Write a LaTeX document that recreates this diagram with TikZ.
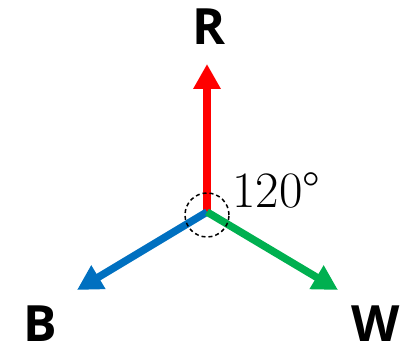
\documentclass[tikz,border=0pt]{standalone}
\usepackage{fontspec}
\newfontfamily\lblfont{Open Sans}
\definecolor{phaseR}{HTML}{FF0000}
\definecolor{phaseB}{HTML}{0070C0}
\definecolor{phaseW}{HTML}{00B050}
\usetikzlibrary{calc, positioning, arrows.meta}

\begin{document}
\begin{tikzpicture}[x=1pt, y=1pt,
  phasor/.style={line width=7.5pt, -{Triangle[length=25pt, width=26pt]}},
  phaselabel/.style={font=\lblfont\bfseries\fontsize{50}{50}\selectfont, inner sep=0pt}]
  \useasboundingbox (0,0) rectangle (416,350);
  % star point and phasor tips
  \coordinate (o) at (207,138);
  \coordinate (tipR) at (207,286);
  \coordinate (tipB) at (77,60);
  \coordinate (tipW) at (338,60);
  \draw[phasor, phaseR] (o) -- (tipR);
  \draw[phasor, phaseB] (o) -- (tipB);
  \draw[phasor, phaseW] (o) -- (tipW);
  % angle mark
  \node[circle, draw, dash pattern=on 4pt off 3pt, line width=1.5pt, minimum size=44pt, inner sep=0pt] (ang) at (207,135) {};
  \node[font=\fontsize{51}{51}\selectfont, anchor=base west, inner sep=0pt] (angtext) at (232,142) {120°};
  % phase labels
  \node[phaselabel] (labR) at (209,323) {R};
  \node[phaselabel] (labB) at (40,26) {B};
  \node[phaselabel] (labW) at (376,26) {W};
\end{tikzpicture}
\end{document}
